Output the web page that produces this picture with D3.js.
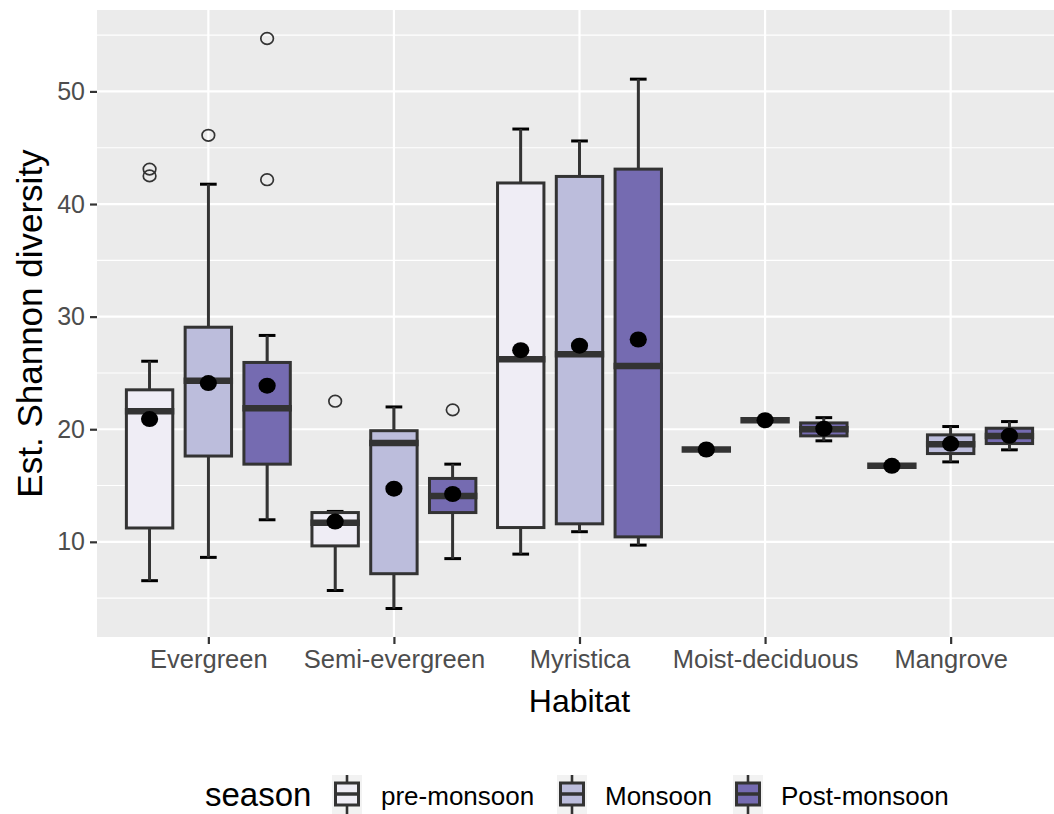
<!DOCTYPE html>
<html>
<head>
<meta charset="utf-8">
<script src="https://cdn.jsdelivr.net/npm/d3@7"></script>
<style>
  html, body { margin: 0; padding: 0; background: #ffffff; }
  svg { display: block; font-family: "Liberation Sans", Arial, Helvetica, sans-serif; }
</style>
</head>
<body>
<svg id="chart" width="1054" height="814"></svg>
<script>
// ---------------- data ----------------
const habitats = ["Evergreen", "Semi-evergreen", "Myristica", "Moist-deciduous", "Mangrove"];
const seasons = ["pre-monsoon", "Monsoon", "Post-monsoon"];
const seasonColors = ["#EFEDF5", "#BCBDDC", "#756BB1"];
const yTicks = [10, 20, 30, 40, 50];
const yMinorTicks = [5, 15, 25, 35, 45, 55];

// pre-monsoon
const preLow  = [6.55, 5.68, 8.91, 18.2, 16.75];
const preQ1   = [11.23, 9.64, 11.27, 18.2, 16.75];
const preMed  = [21.6, 11.7, 26.22, 18.2, 16.75];
const preQ3   = [23.5, 12.6, 41.87, 18.2, 16.75];
const preHigh = [26.04, 12.7, 46.66, 18.2, 16.75];
const preMean = [20.9, 11.8, 27.02, 18.2, 16.75];
const preOut  = [[43.1, 42.5], [22.49], [], [], []];

// Monsoon
const monLow  = [8.62, 4.08, 10.9, 20.8, 17.1];
const monQ1   = [17.62, 7.17, 11.6, 20.8, 17.84];
const monMed  = [24.3, 18.78, 26.66, 20.8, 18.67];
const monQ3   = [29.06, 19.87, 42.45, 20.8, 19.5];
const monHigh = [41.76, 21.98, 45.6, 20.8, 20.24];
const monMean = [24.1, 14.72, 27.42, 20.8, 18.7];
const monOut  = [[46.1], [], [], [], []];

// Post-monsoon
const postLow  = [11.96, 8.51, 9.71, 18.97, 18.17];
const postQ1   = [16.9, 12.6, 10.44, 19.41, 18.73];
const postMed  = [21.87, 14.07, 25.61, 20.0, 19.41];
const postQ3   = [25.93, 15.63, 43.1, 20.56, 20.09];
const postHigh = [28.33, 16.9, 51.09, 21.03, 20.68];
const postMean = [23.87, 14.25, 27.97, 20.05, 19.42];
const postOut  = [[54.7, 42.16], [21.72], [], [], []];

// ---------------- build records ----------------
const seriesStats = [
  [preLow, preQ1, preMed, preQ3, preHigh, preMean, preOut],
  [monLow, monQ1, monMed, monQ3, monHigh, monMean, monOut],
  [postLow, postQ1, postMed, postQ3, postHigh, postMean, postOut]
];
const boxes = [];
seriesStats.forEach((s, si) => {
  habitats.forEach((h, hi) => {
    boxes.push({
      habitat: h, hi: hi, season: seasons[si], si: si,
      low: s[0][hi], q1: s[1][hi], med: s[2][hi], q3: s[3][hi], high: s[4][hi],
      mean: s[5][hi], out: s[6][hi]
    });
  });
});

// ---------------- layout ----------------
const svg = d3.select("#chart");
const panel = { left: 97, top: 10, bottom: 637, right: 1062 };

const allVals = boxes.flatMap(b => [b.low, b.high, ...b.out]);
const yMin = d3.min(allVals), yMax = d3.max(allVals);
const yPad = (yMax - yMin) * 0.05;
const y = d3.scaleLinear().domain([yMin - yPad, yMax + yPad]).range([panel.bottom, panel.top]);

// continuous x for discrete categories (ggplot expands 0.6 units)
const x = d3.scaleLinear().domain([0.4, habitats.length + 0.6]).range([panel.left, panel.right]);
const unit = x(2) - x(1);
const dodge = 0.95 / 3;      // spacing between dodged boxes (units)
const boxW = 0.25;           // box width (units)
const capW = 0.09;           // errorbar cap width (units)
const xc = d => x(d.hi + 1 + (d.si - 1) * dodge);

// ---------------- panel ----------------
svg.append("defs").append("clipPath").attr("id", "pclip")
  .append("rect").attr("x", panel.left).attr("y", panel.top)
  .attr("width", panel.right - panel.left).attr("height", panel.bottom - panel.top);

const g = svg.append("g").attr("clip-path", "url(#pclip)");
g.append("rect").attr("x", panel.left).attr("y", panel.top)
  .attr("width", panel.right - panel.left).attr("height", panel.bottom - panel.top)
  .attr("fill", "#EBEBEB");

g.selectAll("line.minor").data(yMinorTicks).enter().append("line")
  .attr("x1", panel.left).attr("x2", panel.right)
  .attr("y1", d => y(d)).attr("y2", d => y(d))
  .attr("stroke", "#ffffff").attr("stroke-width", 1.1);
g.selectAll("line.majy").data(yTicks).enter().append("line")
  .attr("x1", panel.left).attr("x2", panel.right)
  .attr("y1", d => y(d)).attr("y2", d => y(d))
  .attr("stroke", "#ffffff").attr("stroke-width", 2.2);
g.selectAll("line.majx").data(habitats).enter().append("line")
  .attr("x1", (d, i) => x(i + 1)).attr("x2", (d, i) => x(i + 1))
  .attr("y1", panel.top).attr("y2", panel.bottom)
  .attr("stroke", "#ffffff").attr("stroke-width", 2.2);

// ---------------- errorbars (black) ----------------
const eb = g.selectAll("g.eb").data(boxes).enter().append("g");
eb.append("line")
  .attr("x1", d => xc(d)).attr("x2", d => xc(d))
  .attr("y1", d => y(d.low)).attr("y2", d => y(d.high))
  .attr("stroke", "#000").attr("stroke-width", 2.4);
eb.append("line")
  .attr("x1", d => xc(d) - capW * unit / 2).attr("x2", d => xc(d) + capW * unit / 2)
  .attr("y1", d => y(d.low)).attr("y2", d => y(d.low))
  .attr("stroke", "#000").attr("stroke-width", 3);
eb.append("line")
  .attr("x1", d => xc(d) - capW * unit / 2).attr("x2", d => xc(d) + capW * unit / 2)
  .attr("y1", d => y(d.high)).attr("y2", d => y(d.high))
  .attr("stroke", "#000").attr("stroke-width", 3);

// ---------------- boxplots ----------------
const bx = g.selectAll("g.box").data(boxes).enter().append("g");
bx.append("line")
  .attr("x1", d => xc(d)).attr("x2", d => xc(d))
  .attr("y1", d => y(d.q3)).attr("y2", d => y(d.high))
  .attr("stroke", "#333333").attr("stroke-width", 2.8);
bx.append("line")
  .attr("x1", d => xc(d)).attr("x2", d => xc(d))
  .attr("y1", d => y(d.q1)).attr("y2", d => y(d.low))
  .attr("stroke", "#333333").attr("stroke-width", 2.8);
bx.append("rect")
  .attr("x", d => xc(d) - boxW * unit / 2)
  .attr("width", boxW * unit)
  .attr("y", d => y(d.q3))
  .attr("height", d => Math.max(0, y(d.q1) - y(d.q3)))
  .attr("fill", d => seasonColors[d.si])
  .attr("stroke", "#333333").attr("stroke-width", 3);
bx.append("line")
  .attr("x1", d => xc(d) - boxW * unit / 2 - 1.5).attr("x2", d => xc(d) + boxW * unit / 2 + 1.5)
  .attr("y1", d => y(d.med)).attr("y2", d => y(d.med))
  .attr("stroke", "#333333").attr("stroke-width", 6.5);

// outliers
bx.selectAll("ellipse.out").data(d => d.out.map(v => ({ v: v, b: d }))).enter().append("ellipse")
  .attr("cx", d => xc(d.b)).attr("cy", d => y(d.v))
  .attr("rx", 6.3).attr("ry", 5.8)
  .attr("fill", "none").attr("stroke", "#333333").attr("stroke-width", 1.7);

// means
g.selectAll("ellipse.mean").data(boxes).enter().append("ellipse")
  .attr("cx", d => xc(d)).attr("cy", d => y(d.mean))
  .attr("rx", 8.6).attr("ry", 8.0)
  .attr("fill", "#000");

// ---------------- axes ----------------
const yAxis = svg.append("g").attr("transform", `translate(${panel.left},0)`)
  .call(d3.axisLeft(y).tickValues(yTicks).tickSize(7).tickPadding(5).tickFormat(d3.format("d")));
yAxis.select(".domain").remove();
yAxis.selectAll(".tick line").attr("stroke", "#333333").attr("stroke-width", 2.2);
yAxis.selectAll(".tick text").attr("fill", "#4D4D4D").style("font-size", "25px")
  .style("font-family", '"Liberation Sans", Arial, sans-serif');

const xAxis = svg.append("g").attr("transform", `translate(0,${panel.bottom})`)
  .call(d3.axisBottom(x).tickValues(habitats.map((h, i) => i + 1)).tickSize(7).tickPadding(6)
    .tickFormat(d => habitats[d - 1]));
xAxis.select(".domain").remove();
xAxis.selectAll(".tick line").attr("stroke", "#333333").attr("stroke-width", 2.2);
xAxis.selectAll(".tick text").attr("fill", "#4D4D4D").style("font-size", "25.5px")
  .style("font-family", '"Liberation Sans", Arial, sans-serif');

svg.append("text")
  .attr("x", (panel.left + panel.right) / 2).attr("y", 712)
  .attr("text-anchor", "middle").attr("fill", "#000")
  .style("font-size", "32px").text("Habitat");

svg.append("text")
  .attr("transform", `translate(42,${(panel.top + panel.bottom) / 2}) rotate(-90)`)
  .attr("text-anchor", "middle").attr("fill", "#000")
  .style("font-size", "35px").text("Est. Shannon diversity");

// ---------------- legend ----------------
const legend = svg.append("g");
legend.append("text").attr("x", 205).attr("y", 806).attr("fill", "#000")
  .style("font-size", "33px").text("season");

const keyX = [332, 557, 733];
const labX = [381, 605, 781];
seasons.forEach((s, i) => {
  const k = legend.append("g").attr("transform", `translate(${keyX[i]},775)`);
  k.append("rect").attr("x", 0).attr("y", 0).attr("width", 30).attr("height", 40).attr("fill", "#F2F2F2");
  k.append("line").attr("x1", 15).attr("x2", 15).attr("y1", 0).attr("y2", 40)
    .attr("stroke", "#333333").attr("stroke-width", 2.6);
  k.append("rect").attr("x", 3.5).attr("y", 8).attr("width", 23).attr("height", 22)
    .attr("fill", seasonColors[i]).attr("stroke", "#333333").attr("stroke-width", 3);
  k.append("line").attr("x1", 3.5).attr("x2", 26.5).attr("y1", 19).attr("y2", 19)
    .attr("stroke", "#333333").attr("stroke-width", 3.5);
  legend.append("text").attr("x", labX[i]).attr("y", 805).attr("fill", "#000")
    .style("font-size", "26px").text(s);
});
</script>
</body>
</html>
